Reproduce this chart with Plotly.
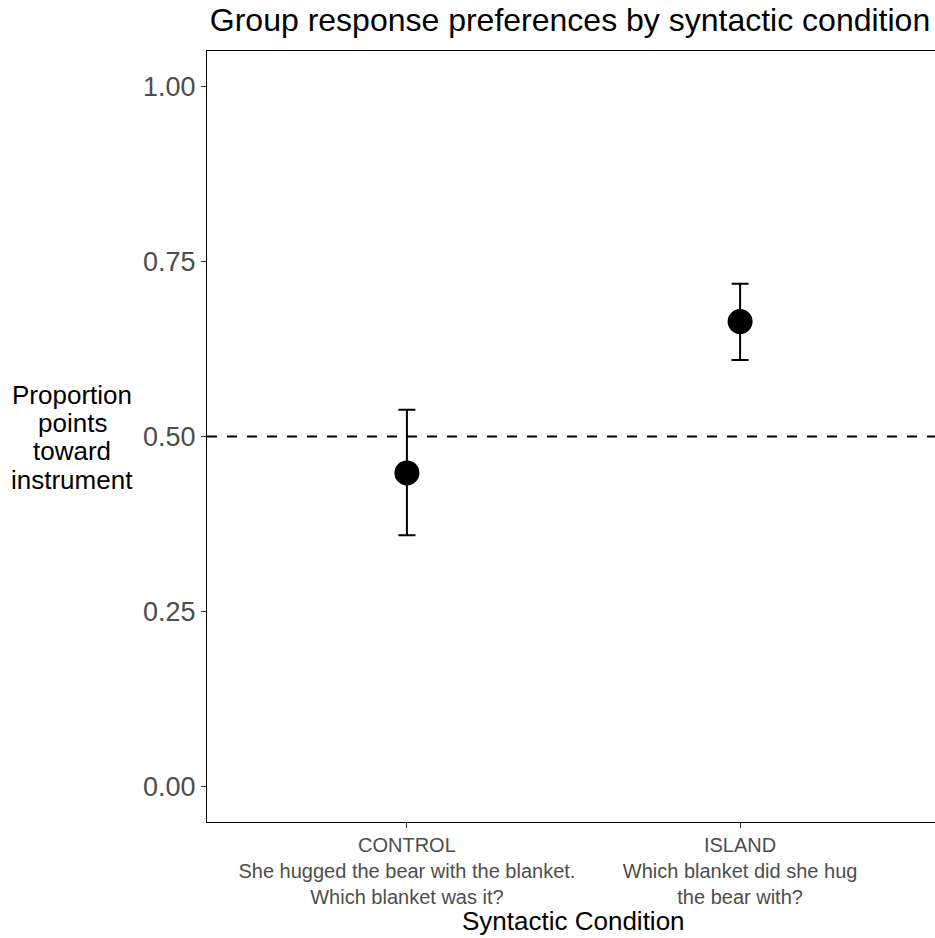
import plotly.graph_objects as go

# Data
conditions = ["CONTROL", "ISLAND"]
condition_labels = [
    "CONTROL<br>She hugged the bear with the blanket.<br>Which blanket was it?",
    "ISLAND<br>Which blanket did she hug<br>the bear with?",
]
means = [0.448, 0.664]
upper = [0.538, 0.718]
lower = [0.359, 0.609]
chance = 0.5
y_ticks = [0.0, 0.25, 0.5, 0.75, 1.0]
y_title_lines = ["Proportion", "points", "toward", "instrument"]

x_pos = list(range(1, len(conditions) + 1))
err_plus = [u - m for u, m in zip(upper, means)]
err_minus = [m - l for m, l in zip(means, lower)]

FONT = "Liberation Sans, Arial, sans-serif"

fig = go.Figure()
fig.add_trace(go.Scatter(
    x=x_pos, y=means, mode="markers",
    marker=dict(color="black", size=25),
    error_y=dict(type="data", symmetric=False, array=err_plus, arrayminus=err_minus,
                 color="black", thickness=2, width=8.5),
    showlegend=False,
))

fig.add_shape(type="line", xref="paper", yref="y", x0=0, x1=1, y0=chance, y1=chance,
              line=dict(color="black", width=2, dash="10px,10px"), layer="below")

L, W, T, H = 207, 728, 51, 771
fig.update_layout(
    width=935, height=938,
    margin=dict(l=L, r=935 - L - W, t=T, b=938 - T - H, autoexpand=False),
    paper_bgcolor="white", plot_bgcolor="white",
    font=dict(family=FONT, color="black"),
    title=dict(text="Group response preferences by syntactic condition",
               x=(570 - L) / W, xref="paper", xanchor="center",
               y=1 - 20 / 938, yref="container", yanchor="middle",
               font=dict(size=32, color="black", family=FONT)),
    xaxis=dict(range=[0.4, 0.4 + 2.2 * W / 733], tickvals=x_pos, ticktext=condition_labels,
               showgrid=False, zeroline=False, showline=True, linecolor="black", linewidth=1.3,
               mirror=True, ticks="outside", ticklen=5, tickwidth=1.3, tickcolor="#333333",
               tickfont=dict(size=20, color="#4D4D4D", family=FONT), automargin=False),
    yaxis=dict(range=[-0.05, 1.05], tickvals=y_ticks, tickformat=".2f",
               showgrid=False, zeroline=False, showline=True, linecolor="black", linewidth=1.3,
               mirror=False, ticks="outside", ticklen=5, tickwidth=1.3, tickcolor="#333333",
               tickfont=dict(size=27, color="#4D4D4D", family=FONT), automargin=False),
)

# multi-line horizontal y-axis title, line spacing like the reference
line_px = [395, 423, 451, 480]
for txt, ypx in zip(y_title_lines, line_px):
    fig.add_annotation(text=txt, xref="paper", yref="paper",
                       x=(72 - L) / W, y=(T + H - ypx) / H, xanchor="center", yanchor="middle",
                       showarrow=False, font=dict(size=26, color="black", family=FONT))
fig.add_annotation(text="Syntactic Condition", xref="paper", yref="paper",
                   x=(573.5 - L) / W, y=(T + H - 921) / H, xanchor="center", yanchor="middle",
                   showarrow=False, font=dict(size=26, color="black", family=FONT))

fig.write_html("out.html")
